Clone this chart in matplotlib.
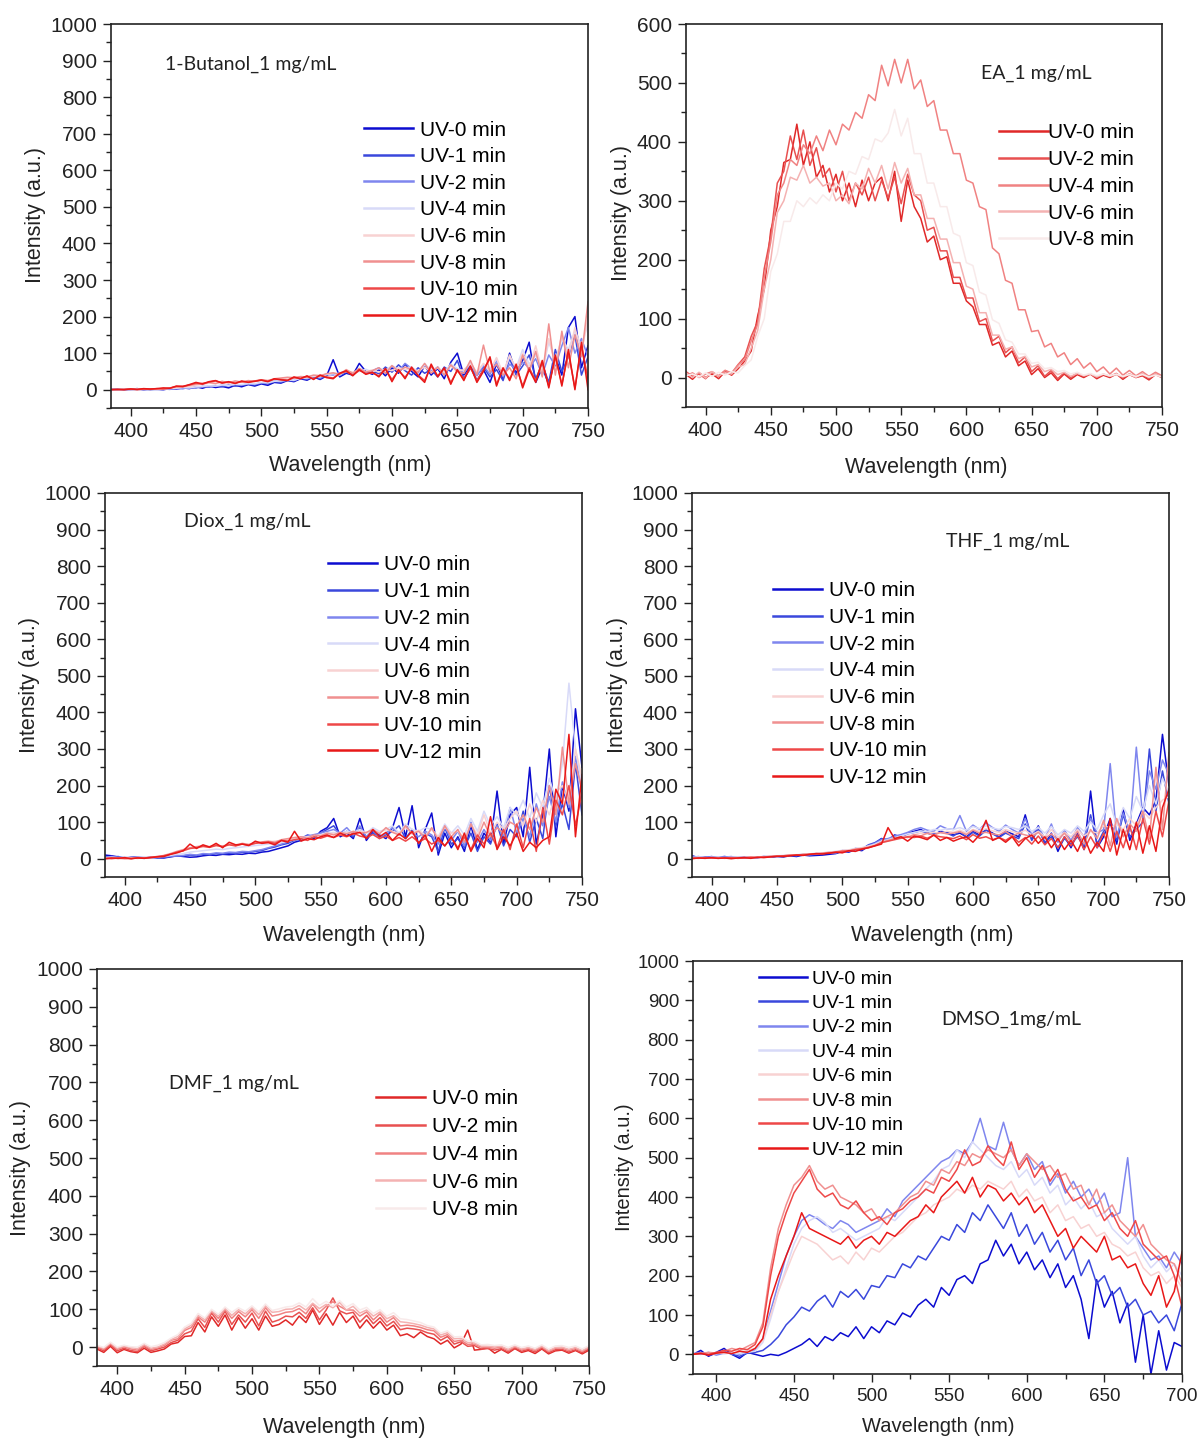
import matplotlib
matplotlib.use("Agg")
import matplotlib.pyplot as plt
import numpy as np
from matplotlib.ticker import MultipleLocator

# ---- spectra, sampled every 5 nm ----
# 1-Butanol (385-750 nm)
bu_0 = [0, 2, 0, 1, 3, 0, 2, 1, 0, 3,
        2, 5, 3, 8, 4, 10, 6, 9, 5, 12,
        8, 14, 10, 16, 12, 20, 18, 25, 22, 30,
        26, 35, 28, 38, 82, 35, 45, 40, 72, 50,
        42, 55, 38, 60, 45, 70, 50, 35, 65, 40,
        58, 30, 75, 100, 40, 65, 25, 55, 20, 70,
        30, 100, 45, 80, 130, 20, 60, 15, 90, 40,
        170, 200, 60, 120]
bu_1 = [1, 0, 2, 0, 1, 2, 0, 1, 2, 1,
        4, 3, 6, 5, 9, 7, 11, 8, 13, 10,
        12, 15, 13, 18, 16, 22, 20, 27, 24, 32,
        28, 36, 30, 40, 45, 38, 48, 42, 55, 46,
        50, 44, 62, 48, 68, 52, 40, 60, 45, 55,
        35, 62, 50, 80, 30, 58, 40, 62, 35, 55,
        25, 85, 40, 65, 95, 30, 70, 20, 110, 50,
        90, 150, 40, 90]
bu_2 = [0, 1, 0, 2, 1, 0, 1, 2, 1, 2,
        3, 4, 5, 6, 8, 9, 10, 12, 11, 14,
        13, 16, 15, 19, 18, 24, 22, 26, 25, 33,
        30, 38, 32, 42, 40, 46, 50, 44, 58, 48,
        52, 60, 45, 64, 50, 72, 58, 46, 70, 50,
        62, 40, 68, 55, 45, 72, 38, 66, 42, 80,
        35, 70, 55, 75, 60, 85, 40, 95, 65, 120,
        170, 100, 140, 90]
bu_4 = [1, 0, 1, 1, 2, 1, 1, 0, 2, 3,
        4, 6, 5, 8, 9, 11, 10, 13, 12, 15,
        14, 17, 16, 20, 19, 23, 24, 27, 26, 31,
        32, 36, 35, 42, 44, 40, 52, 46, 50, 56,
        48, 58, 52, 66, 55, 60, 62, 50, 68, 55,
        60, 48, 70, 58, 50, 75, 45, 70, 55, 85,
        40, 90, 60, 110, 70, 95, 50, 130, 80, 140,
        110, 160, 120, 180]
bu_6 = [0, 1, 2, 0, 1, 2, 1, 2, 3, 4,
        6, 8, 9, 12, 15, 18, 16, 20, 18, 22,
        20, 24, 22, 26, 25, 28, 30, 32, 31, 35,
        34, 38, 40, 42, 45, 44, 50, 48, 52, 50,
        54, 48, 56, 52, 60, 55, 58, 50, 62, 48,
        60, 45, 65, 50, 55, 70, 48, 72, 50, 88,
        45, 95, 55, 100, 60, 120, 50, 140, 70, 150,
        90, 170, 100, 200]
bu_8 = [0, 1, 0, 2, 1, 1, 2, 2, 3, 5,
        8, 10, 12, 15, 18, 20, 17, 23, 19, 24,
        21, 25, 23, 27, 25, 30, 32, 34, 33, 36,
        35, 40, 38, 44, 46, 42, 55, 45, 58, 48,
        52, 60, 45, 66, 50, 62, 55, 48, 72, 45,
        62, 40, 68, 50, 45, 80, 40, 122, 48, 70,
        40, 60, 30, 95, 50, 105, 35, 180, 40, 160,
        60, 150, 90, 240]
bu_10 = [1, 0, 1, 2, 0, 2, 1, 3, 2, 4,
         9, 8, 13, 18, 15, 21, 24, 19, 21, 18,
         22, 21, 24, 27, 23, 29, 28, 26, 33, 31,
         36, 30, 39, 35, 32, 44, 50, 40, 53, 44,
         46, 38, 56, 28, 52, 34, 58, 40, 25, 65,
         38, 58, 20, 52, 30, 60, 25, 55, 85, 15,
         58, 30, 65, 10, 60, 25, 75, 10, 90, 15,
         100, 5, 120, 30]
bu_12 = [0, 1, 0, 2, 1, 3, 2, 3, 5, 4,
         10, 9, 14, 20, 16, 22, 25, 18, 22, 17,
         24, 20, 23, 26, 22, 30, 27, 25, 35, 30,
         38, 28, 40, 33, 30, 45, 52, 38, 55, 42,
         48, 35, 58, 22, 55, 30, 62, 38, 20, 70,
         35, 60, 15, 55, 25, 65, 20, 50, 90, 10,
         60, 25, 70, 5, 55, 20, 80, 5, 95, 10,
         110, 0, 130, 0]

# Ethyl acetate (385-750 nm)
ea_0 = [5, -3, 8, 0, 6, -2, 10, 4, 15, 28,
        45, 105, 150, 250, 290, 365, 370, 430, 360, 400,
        340, 360, 315, 345, 300, 330, 290, 335, 300, 330,
        340, 300, 350, 265, 335, 290, 270, 230, 240, 200,
        205, 160, 160, 130, 120, 90, 90, 55, 60, 35,
        45, 20, 28, 5, 15, 0, 8, -5, 6, -3,
        5, 0, 6, -2, 4, 0, 6, -3, 5, 0,
        3, -4, 5, 0]
ea_2 = [10, 2, 6, -2, 9, 3, 12, 6, 22, 35,
        70, 95, 185, 240, 330, 350, 410, 370, 420, 360,
        390, 340, 355, 315, 350, 300, 330, 310, 340, 300,
        335, 305, 340, 295, 345, 310, 300, 250, 255, 215,
        215, 170, 170, 135, 135, 95, 100, 62, 70, 42,
        52, 25, 35, 10, 20, 2, 12, -2, 8, 0,
        8, 2, 6, 0, 5, 2, 7, -1, 6, 1,
        4, -2, 6, 1]
ea_4 = [3, 8, 0, 6, 10, 2, 12, 8, 22, 30,
        62, 90, 170, 230, 310, 330, 370, 360, 395, 380,
        410, 385, 420, 395, 430, 420, 450, 440, 480, 470,
        530, 495, 540, 500, 540, 490, 505, 460, 470, 420,
        420, 380, 380, 335, 330, 290, 285, 220, 210, 165,
        160, 115, 115, 78, 80, 52, 58, 35, 42, 22,
        32, 16, 25, 10, 18, 6, 16, 4, 12, 3,
        10, 2, 9, 3]
ea_6 = [8, 0, 9, -1, 10, 3, 8, 6, 18, 22,
        50, 80, 150, 200, 280, 300, 340, 335, 360, 330,
        340, 325, 330, 300, 310, 295, 330, 320, 355, 330,
        360, 320, 365, 330, 355, 310, 310, 270, 270, 235,
        235, 195, 195, 155, 150, 110, 110, 72, 72, 48,
        52, 32, 36, 18, 22, 10, 14, 5, 9, 2,
        7, 3, 6, 1, 6, 2, 5, 1, 6, 0,
        7, 0, 6, 1]
ea_8 = [3, 6, 1, 8, 2, 9, 4, 10, 8, 20,
        30, 70, 100, 180, 210, 265, 265, 300, 290, 305,
        295, 310, 300, 330, 320, 350, 345, 375, 370, 405,
        400, 415, 455, 410, 440, 380, 380, 330, 330, 290,
        290, 245, 240, 195, 190, 145, 140, 98, 92, 64,
        60, 40, 40, 24, 26, 15, 17, 10, 12, 6,
        9, 4, 7, 3, 6, 3, 6, 2, 5, 2,
        5, 1, 4, 1]

# 1,4-Dioxane (385-750 nm)
di_0 = [10, 8, 5, 2, 3, 5, 2, 4, 3, 2,
        5, 8, 6, 4, 5, 8, 10, 9, 12, 11,
        13, 12, 15, 14, 18, 20, 25, 30, 35, 45,
        50, 60, 55, 75, 85, 110, 60, 70, 55, 110,
        50, 75, 65, 55, 85, 140, 60, 145, 30, 80,
        125, 10, 70, 30, 60, 20, 90, 25, 70, 45,
        185, 40, 120, 140, 60, 250, 40, 120, 300, 60,
        200, 130, 410, 250]
di_1 = [5, 3, 6, 2, 4, 3, 1, 5, 2, 3,
        6, 7, 8, 10, 9, 12, 11, 14, 13, 15,
        16, 18, 17, 20, 22, 28, 32, 38, 42, 50,
        55, 65, 60, 70, 80, 90, 65, 75, 60, 85,
        55, 70, 60, 65, 75, 90, 55, 80, 40, 70,
        60, 20, 85, 40, 55, 30, 70, 20, 60, 40,
        95, 35, 80, 60, 130, 45, 110, 55, 200, 90,
        150, 80, 260, 120]
di_2 = [3, 6, 2, 4, 1, 5, 3, 2, 4, 5,
        7, 8, 9, 12, 10, 14, 13, 16, 15, 18,
        17, 20, 19, 22, 25, 30, 35, 40, 46, 52,
        58, 62, 66, 70, 75, 80, 70, 85, 65, 90,
        60, 80, 55, 70, 85, 65, 90, 70, 60, 75,
        65, 40, 90, 50, 75, 35, 100, 45, 80, 50,
        90, 60, 140, 70, 110, 60, 150, 90, 170, 100,
        210, 140, 280, 180]
di_4 = [2, 4, 3, 5, 2, 4, 5, 3, 6, 7,
        9, 12, 14, 18, 20, 22, 24, 26, 25, 28,
        30, 32, 34, 36, 38, 40, 42, 45, 48, 52,
        55, 58, 62, 66, 70, 72, 68, 75, 72, 80,
        70, 85, 75, 80, 90, 70, 95, 80, 75, 85,
        80, 60, 95, 70, 90, 65, 110, 75, 130, 90,
        115, 85, 140, 120, 160, 110, 180, 140, 220, 160,
        260, 480, 300, 200]
di_6 = [1, 2, 0, 3, 2, 1, 3, 4, 5, 8,
        12, 18, 22, 28, 30, 32, 34, 36, 35, 38,
        36, 40, 38, 42, 44, 46, 48, 50, 52, 55,
        58, 60, 62, 65, 68, 70, 66, 72, 68, 75,
        70, 78, 72, 80, 75, 68, 85, 70, 78, 65,
        80, 60, 85, 70, 75, 55, 95, 65, 120, 70,
        100, 80, 110, 130, 90, 150, 100, 160, 120, 180,
        200, 150, 300, 220]
di_8 = [0, 2, 1, 0, 2, 1, 2, 3, 5, 9,
        14, 20, 25, 30, 33, 35, 32, 38, 34, 40,
        36, 42, 39, 44, 46, 48, 45, 52, 55, 58,
        60, 56, 65, 62, 70, 65, 72, 68, 75, 70,
        72, 80, 68, 85, 72, 65, 90, 68, 75, 55,
        85, 50, 90, 60, 80, 45, 95, 55, 100, 60,
        85, 70, 100, 90, 120, 80, 140, 100, 200, 120,
        305, 150, 260, 190]
di_10 = [1, 0, 2, 1, 0, 3, 2, 4, 6, 8,
         12, 18, 22, 28, 30, 34, 31, 36, 33, 38,
         35, 40, 37, 42, 44, 46, 42, 50, 48, 52,
         55, 50, 60, 56, 62, 58, 65, 60, 70, 62,
         58, 66, 55, 62, 50, 58, 48, 60, 45, 55,
         40, 50, 35, 58, 30, 60, 25, 65, 40, 70,
         30, 80, 25, 95, 30, 110, 20, 140, 40, 160,
         120, 200, 90, 180]
di_12 = [0, 2, 1, 3, 0, 2, 1, 3, 5, 6,
         12, 16, 22, 40, 28, 38, 32, 42, 30, 45,
         38, 40, 36, 48, 42, 44, 38, 50, 45, 75,
         48, 55, 52, 60, 65, 58, 70, 62, 68, 72,
         55, 80, 60, 72, 50, 68, 55, 75, 42, 65,
         20, 58, 35, 60, 25, 70, 20, 55, 30, 115,
         25, 60, 35, 70, 20, 45, 30, 50, 60, 190,
         150, 340, 60, 230]

# THF (385-750 nm)
th_0 = [8, 3, 5, 2, 4, 6, 3, 5, 2, 4,
        3, 5, 4, 6, 5, 8, 6, 10, 8, 9,
        10, 12, 14, 20, 18, 25, 22, 35, 40, 55,
        50, 65, 60, 70, 75, 80, 70, 65, 75, 72,
        65, 70, 60, 75, 65, 80, 70, 60, 75, 68,
        60, 120, 55, 90, 40, 70, 20, 60, 30, 70,
        25, 185, 30, 60, 110, 40, 135, 50, 95, 140,
        120, 160, 340, 200]
th_1 = [5, 4, 3, 6, 2, 5, 4, 3, 5, 3,
        4, 6, 5, 7, 6, 9, 8, 11, 10, 12,
        14, 16, 15, 22, 20, 28, 26, 38, 44, 55,
        52, 60, 58, 68, 72, 76, 70, 68, 72, 70,
        62, 75, 58, 72, 62, 78, 68, 58, 70, 62,
        55, 95, 50, 80, 45, 60, 30, 55, 40, 60,
        35, 120, 40, 75, 95, 50, 120, 60, 80, 100,
        300, 130, 240, 150]
th_2 = [4, 6, 2, 5, 3, 4, 6, 2, 4, 5,
        3, 6, 5, 8, 7, 9, 10, 12, 11, 13,
        15, 17, 16, 22, 21, 27, 25, 36, 42, 52,
        55, 62, 66, 72, 80, 85, 78, 75, 90, 82,
        80, 118, 75, 92, 80, 98, 85, 75, 92, 80,
        70, 110, 65, 88, 55, 95, 45, 78, 50, 85,
        60, 110, 70, 80, 260, 60, 125, 75, 305, 110,
        240, 190, 270, 230]
th_4 = [3, 5, 4, 2, 5, 3, 4, 5, 3, 4,
        5, 6, 7, 8, 9, 10, 11, 12, 13, 15,
        16, 18, 20, 23, 24, 28, 30, 34, 40, 48,
        52, 58, 62, 68, 72, 76, 74, 80, 78, 82,
        80, 85, 78, 88, 82, 90, 84, 80, 88, 85,
        80, 90, 75, 85, 70, 88, 65, 80, 70, 90,
        75, 100, 80, 120, 150, 90, 140, 110, 170, 130,
        200, 150, 220, 180]
th_6 = [2, 3, 1, 4, 2, 3, 2, 4, 3, 5,
        4, 6, 6, 8, 8, 10, 10, 12, 13, 14,
        16, 18, 19, 22, 24, 27, 30, 34, 38, 45,
        48, 55, 58, 62, 66, 70, 68, 72, 70, 75,
        72, 78, 70, 80, 75, 82, 76, 72, 80, 74,
        70, 78, 65, 75, 60, 80, 58, 72, 60, 80,
        62, 75, 70, 90, 85, 95, 80, 110, 90, 130,
        110, 140, 160, 170]
th_8 = [1, 3, 2, 2, 3, 1, 3, 2, 4, 3,
        4, 5, 6, 7, 8, 10, 9, 12, 12, 14,
        15, 17, 18, 22, 22, 26, 28, 32, 36, 45,
        50, 55, 60, 58, 66, 62, 70, 64, 72, 68,
        70, 74, 66, 78, 70, 72, 68, 65, 75, 62,
        70, 65, 60, 72, 55, 68, 50, 70, 45, 75,
        40, 80, 55, 105, 35, 110, 60, 95, 75, 130,
        55, 250, 80, 290]
th_10 = [2, 1, 3, 2, 1, 2, 3, 1, 2, 4,
         3, 5, 6, 6, 8, 9, 10, 11, 12, 13,
         14, 16, 17, 20, 21, 25, 27, 30, 36, 44,
         48, 52, 56, 60, 58, 62, 56, 64, 60, 58,
         55, 62, 52, 66, 56, 60, 52, 58, 50, 62,
         45, 58, 40, 62, 38, 55, 30, 60, 35, 65,
         25, 60, 30, 70, 20, 75, 30, 90, 25, 110,
         40, 130, 60, 160]
th_12 = [0, 2, 1, 3, 1, 2, 0, 2, 3, 1,
         4, 3, 5, 7, 6, 8, 10, 9, 12, 14,
         13, 15, 18, 16, 22, 20, 26, 30, 35, 40,
         85, 55, 60, 48, 62, 58, 52, 65, 50, 58,
         48, 55, 60, 45, 65, 105, 50, 58, 45, 60,
         35, 55, 65, 42, 60, 30, 55, 25, 50, 20,
         60, 15, 45, 20, 110, 10, 80, 25, 100, 15,
         90, 20, 140, 190]

# DMF (385-750 nm)
dm_0 = [-5, -14, 2, -15, -6, -12, -15, -3, -14, -10,
        -5, 8, 12, 28, 30, 65, 40, 80, 55, 85,
        45, 78, 50, 75, 45, 82, 55, 60, 72, 58,
        82, 65, 98, 60, 88, 58, 92, 65, 82, 50,
        72, 50, 68, 45, 58, 30, 35, 25, 40, 28,
        22, 8, 18, -2, 8, 45, -8, -6, -2, -16,
        -6, -16, -4, -14, -9, -17, -5, -18, -10, -8,
        -16, -9, -18, -8]
dm_2 = [-2, -10, 6, -10, -3, -9, -12, 2, -10, -5,
        0, 12, 18, 35, 42, 75, 52, 90, 66, 95,
        60, 85, 66, 90, 56, 95, 66, 72, 82, 80,
        92, 76, 104, 72, 98, 130, 96, 88, 92, 66,
        84, 62, 78, 56, 68, 46, 50, 48, 45, 38,
        34, 18, 28, 8, 14, 2, 4, -5, -4, -8,
        -4, -13, -2, -11, -6, -13, -3, -15, -7, -6,
        -13, -7, -15, -5]
dm_4 = [0, -6, 9, -6, 1, -5, -8, 4, -6, -2,
        5, 18, 22, 44, 52, 80, 66, 94, 76, 99,
        76, 94, 80, 99, 76, 104, 82, 86, 92, 94,
        102, 88, 114, 92, 108, 120, 108, 98, 98, 82,
        93, 72, 88, 66, 78, 56, 58, 56, 52, 46,
        43, 26, 33, 15, 18, 7, 8, 0, -1, -3,
        0, -9, 1, -7, -3, -9, 1, -11, -3, -2,
        -9, -3, -11, -1]
dm_6 = [3, -3, 11, -3, 3, -1, -4, 7, -3, 0,
        8, 20, 28, 48, 58, 84, 72, 96, 82, 102,
        84, 99, 88, 104, 86, 109, 92, 94, 100, 101,
        110, 98, 116, 102, 113, 104, 118, 98, 108, 90,
        98, 82, 93, 75, 83, 67, 65, 62, 58, 52,
        48, 32, 38, 22, 23, 12, 11, 3, 2, 1,
        2, -6, 3, -5, -1, -6, 3, -9, -1, 0,
        -6, -1, -9, 1]
dm_8 = [5, -1, 13, 0, 5, 1, 0, 10, 1, 5,
        12, 24, 33, 53, 63, 89, 77, 100, 87, 106,
        92, 104, 95, 109, 93, 114, 97, 101, 106, 108,
        117, 106, 128, 110, 121, 108, 123, 106, 115, 98,
        105, 89, 99, 82, 91, 75, 73, 69, 65, 57,
        53, 37, 43, 27, 28, 17, 15, 6, 7, 4,
        6, -1, 6, -1, 3, -3, 6, -5, 3, 4,
        -1, 3, -5, 4]

# DMSO (385-700 nm)
ds_0 = [0, 10, -5, 5, 15, 0, -10, 5, 0, -5,
        0, -3, 5, 15, 25, 40, 20, 45, 35, 55,
        45, 70, 40, 70, 55, 85, 75, 105, 95, 125,
        140, 120, 170, 150, 190, 200, 180, 230, 240, 290,
        250, 280, 230, 260, 215, 240, 195, 230, 170, 200,
        140, 40, 190, 120, 160, 80, 130, -20, 100, -50,
        60, -40, 30, 20]
ds_1 = [0, 5, -3, 2, 8, 0, -5, 3, 5, 10,
        25, 45, 75, 95, 120, 110, 135, 150, 120, 160,
        145, 165, 140, 175, 170, 200, 195, 230, 220, 250,
        240, 270, 300, 290, 330, 310, 360, 340, 380, 350,
        320, 360, 300, 330, 280, 310, 260, 290, 240, 270,
        200, 240, 180, 200, 150, 170, 120, 140, 100, 110,
        80, 100, 60, 130]
ds_2 = [2, 0, 5, -2, 3, 5, 0, 8, 10, 40,
        110, 180, 250, 300, 340, 355, 345, 330, 320, 340,
        330, 310, 320, 330, 340, 370, 350, 390, 410, 430,
        450, 470, 490, 500, 520, 510, 540, 600, 530, 520,
        590, 520, 480, 510, 470, 490, 430, 460, 410, 440,
        400, 420, 380, 410, 350, 360, 500, 300, 270, 240,
        250, 220, 260, 230]
ds_4 = [3, 2, 0, 5, 1, 4, 2, 5, 8, 30,
        90, 160, 220, 280, 320, 340, 350, 335, 310, 320,
        305, 290, 300, 310, 320, 350, 340, 360, 380, 400,
        420, 440, 470, 480, 520, 500, 540, 520, 500, 480,
        470, 490, 450, 470, 430, 450, 410, 430, 380, 400,
        370, 390, 350, 360, 320, 300, 280, 300, 250, 220,
        240, 210, 230, 200]
ds_6 = [0, 3, 1, 2, 4, 2, 6, 10, 15, 35,
        100, 160, 210, 260, 300, 290, 280, 260, 240, 250,
        230, 260, 240, 270, 260, 280, 300, 310, 330, 350,
        360, 380, 390, 400, 420, 410, 430, 420, 440, 430,
        420, 440, 400, 420, 390, 400, 360, 380, 340, 350,
        320, 330, 300, 310, 280, 270, 250, 260, 220, 200,
        210, 180, 200, 170]
ds_8 = [0, 2, 5, 3, 8, 15, 10, 20, 30, 80,
        220, 320, 380, 430, 450, 480, 440, 420, 430, 400,
        390, 380, 360, 370, 340, 350, 360, 380, 400, 410,
        440, 430, 470, 460, 490, 480, 510, 500, 520, 510,
        500, 520, 480, 510, 490, 470, 480, 450, 460, 420,
        430, 380, 420, 360, 380, 340, 320, 300, 330, 280,
        260, 240, 230, 180]
ds_10 = [1, 3, 0, 5, 10, 8, 15, 12, 25, 70,
         200, 300, 360, 410, 440, 470, 420, 400, 410, 380,
         370, 390, 360, 340, 350, 330, 360, 370, 390, 400,
         420, 410, 450, 440, 470, 520, 480, 490, 530, 500,
         480, 540, 470, 500, 450, 480, 440, 470, 420, 390,
         400, 370, 380, 340, 360, 320, 300, 340, 280, 260,
         240, 250, 200, 120]
ds_12 = [0, 2, -2, 3, 5, 2, 8, 5, 15, 40,
         140, 200, 250, 300, 360, 320, 310, 300, 290, 280,
         300, 270, 290, 300, 280, 310, 300, 320, 340, 350,
         380, 360, 400, 420, 440, 410, 450, 400, 430, 420,
         390, 410, 380, 400, 360, 380, 340, 300, 320, 270,
         300, 280, 260, 300, 240, 250, 220, 230, 180, 150,
         200, 120, 160, 260]

labels_8 = ["UV-0 min", "UV-1 min", "UV-2 min", "UV-4 min",
            "UV-6 min", "UV-8 min", "UV-10 min", "UV-12 min"]
labels_5 = ["UV-0 min", "UV-2 min", "UV-4 min", "UV-6 min", "UV-8 min"]
colors_8 = ["#0c0cd0", "#3a48dc", "#7f86ee", "#d8daf8",
            "#f8d2d2", "#f09090", "#ee4848", "#e81818"]
colors_5 = ["#e02828", "#e85050", "#f08282", "#f4b2b2", "#f8eaea"]

W, H = 1198, 1439
plt.rcParams["font.family"] = ["Liberation Sans", "DejaVu Sans"]
fig = plt.figure(figsize=(W / 100, H / 100), dpi=100)


def fx(px):
    return px / W


def fy(py):
    return 1 - py / H


def make_axes(left, top, right, bottom, xlim, ylim, ymajor, tick_fs=15):
    ax = fig.add_axes([fx(left), fy(bottom), fx(right - left), (bottom - top) / H])
    ax.set_xlim(*xlim)
    ax.set_ylim(*ylim)
    ax.xaxis.set_major_locator(MultipleLocator(50))
    ax.xaxis.set_minor_locator(MultipleLocator(25))
    ax.yaxis.set_major_locator(MultipleLocator(ymajor))
    ax.yaxis.set_minor_locator(MultipleLocator(ymajor / 2))
    ax.tick_params(which="both", direction="out", top=False, right=False,
                   labelsize=tick_fs, colors="#222222", width=1.0)
    ax.tick_params(which="major", length=6, pad=4)
    ax.tick_params(which="minor", length=3.5)
    # the lowest (negative) tick is not labelled
    ax.set_yticks([t for t in ax.get_yticks() if ylim[0] <= t <= ylim[1] and t >= 0])
    for s in ax.spines.values():
        s.set_linewidth(1.2)
        s.set_color("#222222")
    return ax


def draw(ax, series, labels, colors, x0, x1):
    for y, lab, c in zip(series, labels, colors):
        x = np.linspace(x0, x1, len(y))
        ax.plot(x, y, color=c, lw=1.1, label=lab)


def legend(ax, x_px, first_row_px, spacing_px, fs=15, hl=2.35, pad=0.34):
    fs_px = fs * 100 / 72
    lsp = (spacing_px - 0.91 * fs_px) / fs_px
    top = first_row_px - 0.36 * fs_px
    leg = ax.legend(loc="upper left", bbox_to_anchor=(fx(x_px), fy(top)),
                    bbox_transform=fig.transFigure, frameon=False, fontsize=fs,
                    borderpad=0, borderaxespad=0, handlelength=hl,
                    handletextpad=pad, labelspacing=lsp)
    for h in leg.get_lines():
        h.set_linewidth(1.8)


def labels(ylab_xy, xlab_xy, fs=15.5):
    fig.text(fx(ylab_xy[0]), fy(ylab_xy[1]), "Intensity (a.u.)", rotation=90,
             ha="center", va="center", fontsize=fs, color="#222222")
    fig.text(fx(xlab_xy[0]), fy(xlab_xy[1]), "Wavelength (nm)",
             ha="center", va="center", fontsize=fs, color="#222222")


def tag(xy, text, fs=14):
    fig.text(fx(xy[0]), fy(xy[1]), text, ha="center", va="center",
             fontsize=fs, family=["Lato", "DejaVu Sans"], color="#222222")


# 1-Butanol
ax = make_axes(111, 24, 588, 408, (385, 750), (-50, 1000), 100)
draw(ax, [bu_0, bu_1, bu_2, bu_4, bu_6, bu_8, bu_10, bu_12], labels_8, colors_8, 385, 750)
legend(ax, 364, 128, 26.6)
labels((36, 215), (350, 466))
tag((251, 64), "1-Butanol_1 mg/mL")

# Ethyl acetate
ax = make_axes(686, 24, 1162, 407, (385, 750), (-50, 600), 100)
draw(ax, [ea_0, ea_2, ea_4, ea_6, ea_8], labels_5, colors_5, 385, 750)
legend(ax, 999, 131, 26.7, pad=0.0)
labels((622, 213), (926, 467))
tag((1036, 73), "EA_1 mg/mL")

# Dioxane
ax = make_axes(105, 493, 582, 877, (385, 750), (-50, 1000), 100)
draw(ax, [di_0, di_1, di_2, di_4, di_6, di_8, di_10, di_12], labels_8, colors_8, 385, 750)
legend(ax, 328, 563, 26.7)
labels((30, 685), (344, 936))
tag((247, 521), "Diox_1 mg/mL")

# THF
ax = make_axes(692, 493, 1169, 877, (385, 750), (-50, 1000), 100)
draw(ax, [th_0, th_1, th_2, th_4, th_6, th_8, th_10, th_12], labels_8, colors_8, 385, 750)
legend(ax, 773, 589, 26.6)
labels((617, 685), (932, 936))
tag((1008, 541), "THF_1 mg/mL")

# DMF
ax = make_axes(97, 969, 589, 1366, (385, 750), (-50, 1000), 100)
draw(ax, [dm_0, dm_2, dm_4, dm_6, dm_8], labels_5, colors_5, 385, 750)
legend(ax, 376, 1097, 27.7)
labels((21, 1168), (344, 1427))
tag((234, 1083), "DMF_1 mg/mL")

# DMSO
ax = make_axes(693, 961, 1182, 1374, (385, 700), (-50, 1000), 100, tick_fs=13.5)
draw(ax, [ds_0, ds_1, ds_2, ds_4, ds_6, ds_8, ds_10, ds_12], labels_8, colors_8, 385, 700)
legend(ax, 759, 977, 24.5, fs=14, hl=2.45, pad=0.3)
labels((624, 1167), (938, 1427), fs=14.5)
tag((1011, 1019), "DMSO_1mg/mL")

fig.savefig("out.png", dpi=100)
